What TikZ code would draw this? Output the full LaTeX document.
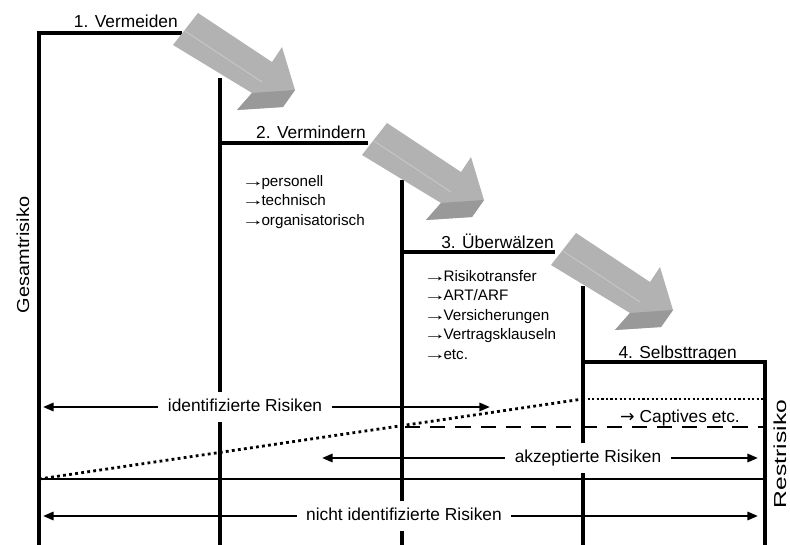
\documentclass[tikz,border=0pt]{standalone}
\usepackage{fontspec}
\usepackage{graphicx}
\setmainfont{Liberation Sans}
\newfontfamily\symfont{DejaVu Sans}
\usetikzlibrary{arrows.meta}
\definecolor{arrowface}{gray}{0.70}
\definecolor{arrowshade}{gray}{0.60}
\definecolor{arrowedge}{gray}{0.80}
\newcommand{\listarrow}{\makebox[1.2em][l]{\hspace*{-0.1em}\scalebox{1.5}[1]{→}}}

\begin{document}
\begin{tikzpicture}[x=0.03cm,y=-0.03cm,>={Triangle[length=9pt,width=7pt]},
  font=\fontsize{14.8}{17}\selectfont,
  stair/.style={line width=2.6pt},
  span/.style={line width=2pt,->},
  spanlabel/.style={fill=white,inner xsep=8pt,inner ysep=6pt,text height=11pt,text depth=3pt},
  stage/.style={anchor=base east,inner sep=0pt},
  measures/.style={anchor=north west,align=left,inner sep=0pt,font=\fontsize{13}{16.6}\selectfont},
  side/.style={rotate=90,anchor=base,inner sep=0pt}]
  \useasboundingbox (0,0) rectangle (790,545);
  % steps
  \draw[stair] (39,545) -- (39,33) -- (182,33);
  \draw[stair] (220,545) -- (220,78);
  \draw[stair] (220,143) -- (368,143);
  \draw[stair] (402,545) -- (402,180);
  \draw[stair] (402,252) -- (555,252);
  \draw[stair] (583,545) -- (583,286);
  \draw[stair] (583,362) -- (765,362) -- (765,545);
  \draw[line width=2.2pt] (39,479) -- (765,479);
  % residual risk boundary
  \draw[line width=2.4pt,dash pattern=on 2.4pt off 2.8pt] (39,479) -- (583,399);
  \draw[line width=1.9pt,dash pattern=on 1.9pt off 2pt] (583,399) -- (765,399);
  \draw[line width=2.2pt,dash pattern=on 13pt off 8.5pt] (405,427) -- (765,427);
  \node[anchor=base west,inner sep=0pt] (capt) at (620,422) {{\symfont →} Captives etc.};
  % ranges
  \coordinate (identL) at (43,407);
  \coordinate (identR) at (490,407);
  \coordinate (akzL) at (322,458);
  \coordinate (akzR) at (758,458);
  \coordinate (nichtL) at (43,516);
  \coordinate (nichtR) at (758,516);
  \node[spanlabel] (ident) at (245,407) {identifizierte Risiken};
  \node[spanlabel] (akz) at (588,458) {akzeptierte Risiken};
  \node[spanlabel] (nicht) at (404,516) {nicht identifizierte Risiken};
  \foreach \n in {ident,akz,nicht}{
    \draw[span] (\n.west) -- (\n L);
    \draw[span] (\n.east) -- (\n R);
  }
  % block arrows
  \foreach \k in {0,1,2}{
    \begin{scope}[shift={(\k*189,\k*110)}]
      \fill[arrowface] (198,13) -- (272,62) -- (282,47) -- (295,90) -- (283,107)
        -- (237,110) -- (252,93) -- (173,45) -- cycle;
      \fill[arrowshade] (237,110) -- (252,93) -- (295,90) -- (283,107) -- cycle;
      \draw[arrowedge,line width=0.6pt] (185,31) -- (262,82);
    \end{scope}
  }
  \node[stage] (s1) at (178,28) {1. Vermeiden};
  \node[stage] (s2) at (366,139) {2. Vermindern};
  \node[stage] (s3) at (554,249) {3. Überwälzen};
  \node[stage] (s4) at (737,358) {4. Selbsttragen};
  \node[measures] (m2) at (243,175) {\listarrow personell\\\listarrow technisch\\\listarrow organisatorisch};
  \node[measures] (m3) at (425,270) {\listarrow Risikotransfer\\\listarrow ART/ARF\\\listarrow Versicherungen\\\listarrow Vertragsklauseln\\\listarrow etc.};
  \node[side] (ges) at (29,255) {\scalebox{1.15}[1]{Gesamtrisiko}};
  \node[side] (rest) at (786,454) {\scalebox{1.42}[1]{Restrisiko}};
\end{tikzpicture}
\end{document}
